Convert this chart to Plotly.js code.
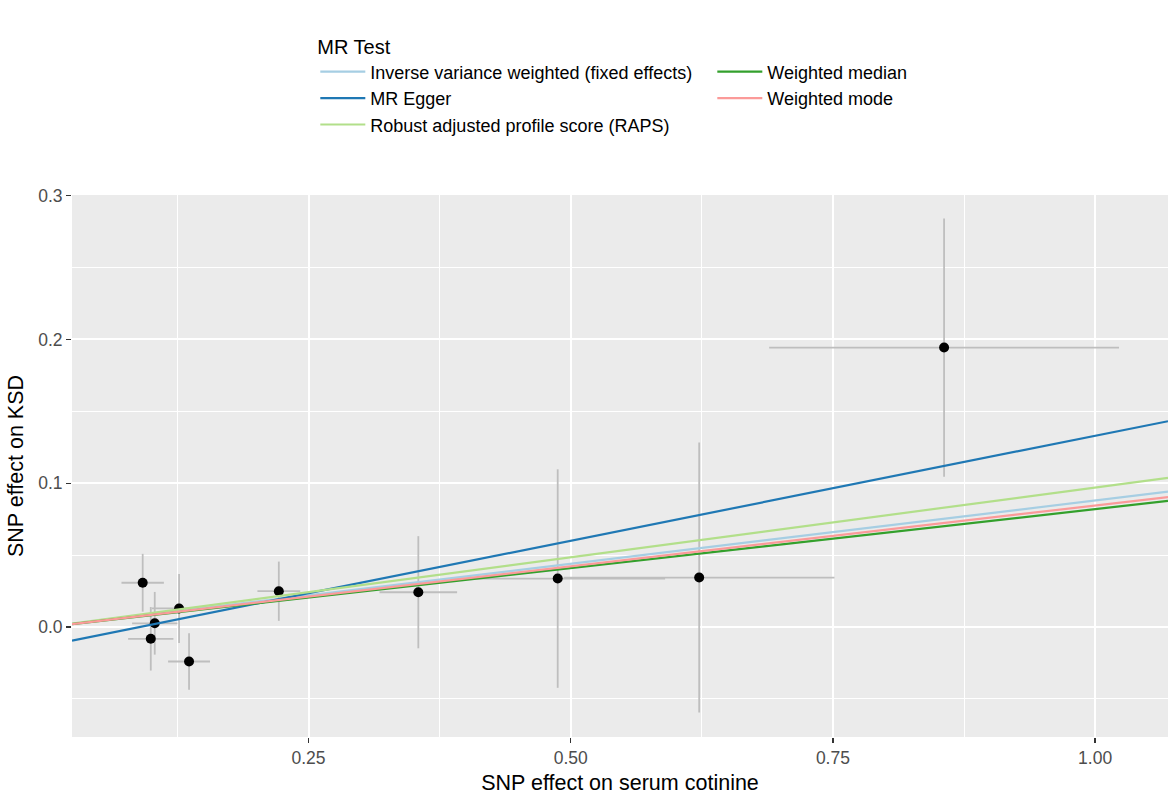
<!DOCTYPE html>
<html>
<head>
<meta charset="utf-8">
<script src="https://cdn.plot.ly/plotly-3.0.1.min.js"></script>
<style>
  html, body { margin: 0; padding: 0; background: #fff; }
  #chart { width: 1170px; height: 795px; }
</style>
</head>
<body>
<div id="chart"></div>
<script>
// SNP effects (exposure: serum cotinine, outcome: KSD)
var snpX   = [0.0919, 0.1266, 0.1034, 0.0996, 0.1361, 0.2217, 0.3547, 0.4876, 0.6225, 0.856];
var snpY   = [0.0308, 0.0129, 0.0026, -0.0082, -0.0240, 0.0249, 0.0242, 0.0337, 0.0344, 0.1944];
var snpSeX = [0.0202, 0.0260, 0.0216, 0.0216, 0.0200, 0.0204, 0.0370, 0.1024, 0.1290, 0.1668];
var snpSeY = [0.0201, 0.0240, 0.0218, 0.0221, 0.0196, 0.0206, 0.0390, 0.0760, 0.0939, 0.0898];

// MR estimates
var methods = ["Inverse variance weighted (fixed effects)", "MR Egger",
               "Robust adjusted profile score (RAPS)", "Weighted median", "Weighted mode"];
var slopes     = [0.088, 0.146, 0.097, 0.082, 0.0845];
var intercepts = [0, -0.013, 0, 0, 0];
var colors     = ["#a6cee3", "#1f78b4", "#b2df8a", "#33a02c", "#fb9a99"];
var legendRank = [1, 3, 5, 2, 4];   // two columns, filled top to bottom

var xRange = [0.0245, 1.0695];
var yRange = [-0.0765, 0.3005];

var traces = [{
  type: "scatter", mode: "markers",
  x: snpX, y: snpY,
  error_x: {type: "data", array: snpSeX, color: "#bebebe", thickness: 1.8, width: 0},
  error_y: {type: "data", array: snpSeY, color: "#bebebe", thickness: 1.8, width: 0},
  marker: {color: "black", size: 10},
  showlegend: false, hoverinfo: "x+y"
}];

methods.forEach(function (m, i) {
  traces.push({
    type: "scatter", mode: "lines",
    name: m,
    x: xRange,
    y: xRange.map(function (v) { return intercepts[i] + slopes[i] * v; }),
    line: {color: colors[i], width: 2.2},
    legendrank: legendRank[i]
  });
});

var font = "Liberation Sans, Arial, sans-serif";

var layout = {
  width: 1170, height: 795,
  margin: {l: 72, r: 2, t: 195, b: 58, autoexpand: false},
  paper_bgcolor: "white",
  plot_bgcolor: "#ebebeb",
  font: {family: font, color: "#4d4d4d"},
  xaxis: {
    range: xRange,
    tickvals: [0.25, 0.5, 0.75, 1.0],
    tickformat: ".2f",
    ticks: "outside", ticklen: 5, tickwidth: 1.5, tickcolor: "#333333",
    tickfont: {size: 17.5, color: "#4d4d4d"},
    showgrid: true, gridcolor: "white", gridwidth: 2,
    minor: {tickvals: [0.125, 0.375, 0.625, 0.875], showgrid: true, gridcolor: "white", gridwidth: 1},
    zeroline: false, showline: false,
    title: {text: "SNP effect on serum cotinine", font: {size: 21.5, color: "black"}, standoff: 8}
  },
  yaxis: {
    range: yRange,
    tickvals: [0, 0.1, 0.2, 0.3],
    tickformat: ".1f",
    ticks: "outside", ticklen: 5, tickwidth: 1.5, tickcolor: "#333333",
    tickfont: {size: 17.5, color: "#4d4d4d"},
    showgrid: true, gridcolor: "white", gridwidth: 2,
    minor: {tickvals: [-0.05, 0.05, 0.15, 0.25], showgrid: true, gridcolor: "white", gridwidth: 1},
    zeroline: false, showline: false,
    title: {text: "SNP effect on KSD", font: {size: 21.5, color: "black"}, standoff: 8}
  },
  legend: {
    orientation: "h",
    x: 0.222, xanchor: "left",
    y: 1.309, yanchor: "top",
    itemwidth: 45,
    entrywidth: 337, entrywidthmode: "pixels",
    traceorder: "normal",
    font: {size: 18, color: "black", family: font},
    title: {text: "MR Test", side: "top", font: {size: 20, color: "black", family: font}},
    bgcolor: "rgba(0,0,0,0)"
  },
  showlegend: true
};

Plotly.newPlot("chart", traces, layout, {displayModeBar: false, staticPlot: true});
</script>
</body>
</html>
